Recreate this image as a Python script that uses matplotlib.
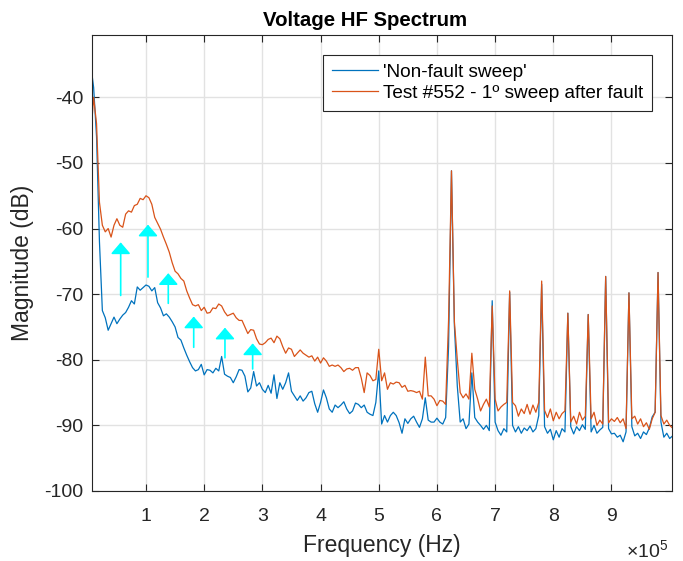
#!/usr/bin/env python3
# -*- coding: utf-8 -*-
"""
Voltage HF spectrum: non-fault sweep vs first sweep after fault.
"""

# Import relevant libraries.
import numpy as np
import matplotlib
matplotlib.use('Agg')
import matplotlib.pyplot as plt

plt.rcParams['font.family'] = ['Liberation Sans', 'DejaVu Sans']
plt.rcParams['mathtext.fontset'] = 'custom'
plt.rcParams['mathtext.rm'] = 'Liberation Sans'
plt.rcParams['mathtext.it'] = 'Liberation Sans'

# Frequency grid (kHz), 5 kHz steps.
freq_khz = np.arange(5, 1006, 5)

# Magnitude (dB) of the non-fault sweep.
mag_nonfault = [
    -35, -38.5, -46, -62, -72.5, -73.6, -75.5, -74.5, -73.5, -74.5,
    -73.8, -73.2, -72.8, -72, -71, -71.5, -68.9, -69.4, -69, -68.6,
    -68.8, -69.5, -69, -71.3, -72.1, -73.3, -73, -73.5, -74.2, -75,
    -76.6, -77, -78.2, -79.3, -80.3, -81.2, -81.7, -81.5, -80.7, -82.3,
    -81.5, -81.6, -82, -81.3, -81.7, -79.5, -82.2, -82.5, -82.7, -83.5,
    -82.6, -81.5, -81.6, -82.5, -84.9, -84.3, -81.8, -84, -83.5, -84.5,
    -85, -83.9, -85.1, -82.3, -85.9, -83.5, -84.5, -83.5, -82, -84.8,
    -85.5, -86.2, -85.5, -86.3, -85.8, -85, -84.8, -86.7, -88, -86.5,
    -84.6, -85.8, -87.5, -88, -86.9, -87.3, -86.9, -86.4, -87.5, -88.2,
    -87.8, -86.6, -86.8, -87.3, -86.9, -88, -88.3, -88.5, -86.5, -81.7,
    -89.8, -88.5, -89.5, -88.5, -88, -88.5, -89.6, -91.2, -89, -89.7,
    -89, -88.6, -89.5, -90.3, -89, -85.8, -89.2, -89.5, -89.5, -88.9,
    -89.5, -89.8, -88.8, -78, -51.2, -74.8, -84, -89.5, -89, -90.5,
    -89.8, -82, -88.8, -89.5, -90, -90.6, -90, -90.8, -71, -89.5,
    -90.8, -91.5, -90.5, -91, -69.7, -90, -91, -90.2, -91.2, -90.4,
    -90.8, -90.1, -91, -90.5, -88.5, -68.5, -90.2, -91.2, -90.6, -92.2,
    -90.8, -91.8, -90.5, -91, -72.9, -90.2, -91.3, -90.2, -90.8, -89.9,
    -90.6, -73.1, -91, -90, -91.2, -90.7, -90.3, -67.3, -90.5, -91.3,
    -91.2, -91.8, -91.5, -92.5, -91, -69.8, -90.2, -91.6, -91.2, -92,
    -91, -91.4, -90.4, -88.7, -88, -66.7, -89.5, -91.8, -91.2, -92,
    -91.6,
]

# Magnitude (dB) of test #552, first sweep after fault.
mag_fault = [
    -46, -40, -44, -56, -59.5, -60.5, -60, -61.3, -59.5, -58.5,
    -59.5, -59.8, -57.8, -57.3, -57.5, -56.5, -56.3, -55.4, -55.6, -55,
    -55.3, -56.3, -58.3, -59.2, -60.1, -61.3, -62.4, -63.6, -65.2, -66.5,
    -66.9, -67.6, -68, -69.5, -70.6, -71.6, -71.8, -71.6, -72.5, -72,
    -72.9, -72.8, -72.1, -72.2, -71.5, -71.8, -72.7, -73.3, -73.1, -72.9,
    -73.6, -74, -74, -75, -76, -75.4, -75.5, -76.8, -77.6, -77.7,
    -77.4, -76.9, -76.7, -77.4, -76.4, -76.8, -78, -79, -78.2, -78.4,
    -79.5, -79, -78.5, -79, -79.3, -79.6, -79.4, -80.2, -79.6, -80.5,
    -79.7, -80.2, -81, -80.8, -81, -80.8, -81.2, -81.8, -81.4, -81.3,
    -81.6, -81.2, -81.2, -82.8, -85, -82, -82.4, -83.2, -83, -78.4,
    -83.2, -82, -84.5, -83.5, -83.7, -83.4, -83.5, -84.2, -83.9, -84.8,
    -84.7, -84.8, -85, -84.8, -86, -79.6, -85.5, -85.5, -86, -87,
    -86.2, -86.3, -86.8, -74, -51.2, -74.2, -80, -85, -85.8, -85.2,
    -86, -79, -84.5, -86, -87.8, -86.8, -86, -87.2, -71.8, -86,
    -87.8, -87.2, -86.8, -86.5, -69.5, -86.5, -87, -88.6, -87.5, -88.2,
    -86.8, -88.3, -86.9, -88, -86.5, -68, -87.7, -88.8, -87.5, -89.3,
    -88, -89, -88.2, -87.8, -72.9, -89.5, -88.6, -89.8, -88, -89.2,
    -88.6, -73.1, -89, -88, -90, -89.2, -89.8, -67.3, -89.6, -89,
    -89.4, -88.8, -89.6, -89, -90.5, -69.8, -89, -88.6, -89.8, -89,
    -90.2, -89.6, -90.6, -89, -88, -66.7, -88.5, -89.8, -89.2, -90,
    -90.4,
]

# Cyan arrows: frequency (Hz), tail and head magnitude (dB).
arrow_freq = [56500, 103400, 138300, 182000, 235700, 283300]
arrow_tail = [-70.2, -67.4, -71.4, -78.1, -79.7, -81.4]
arrow_head = [-62.1, -59.4, -66.8, -73.4, -75.1, -77.5]

labels = ["'Non-fault sweep'", 'Test #552 - 1º sweep after fault']
xtick_vals = [1, 2, 3, 4, 5, 6, 7, 8, 9]
ytick_vals = [-100, -90, -80, -70, -60, -50, -40]

## Plotting.
fig = plt.figure(figsize=(6.83, 5.61), dpi=100)
ax = fig.add_axes([0.1347, 0.1248, 0.8492, 0.8128])

freq_hz = freq_khz * 1e3
ax.plot(freq_hz, mag_nonfault, color='#0072BD', lw=0.9, label=labels[0])
ax.plot(freq_hz, mag_fault, color='#D95319', lw=0.9, label=labels[1])

for f, lo, hi in zip(arrow_freq, arrow_tail, arrow_head):
    ax.annotate('', xy=(f, hi), xytext=(f, lo),
                arrowprops=dict(arrowstyle='-|>,head_width=0.3,head_length=0.35',
                                color='#00FFFF', lw=1.2, mutation_scale=20,
                                shrinkA=0, shrinkB=0))

ax.set_xlim(7.2e3, 1.004e6)
ax.set_ylim(-100, -30.5)
ax.set_xticks([v * 1e5 for v in xtick_vals])
ax.set_xticklabels([str(v) for v in xtick_vals])
ax.set_yticks(ytick_vals)
ax.set_yticklabels([str(v) for v in ytick_vals])

ax.grid(True, color='#e2e2e2', lw=1.0)
ax.set_axisbelow(True)
for s in ax.spines.values():
    s.set_color('#262626')
    s.set_linewidth(0.8)
ax.tick_params(direction='in', length=5, width=0.8, colors='#262626',
               labelsize=14, top=True, right=True)
ax.tick_params(axis='x', pad=12)
ax.tick_params(axis='y', pad=6)

ax.set_xlabel('Frequency (Hz)', fontsize=16.5, color='#262626')
ax.set_ylabel('Magnitude (dB)', fontsize=16.5, color='#262626')
ax.xaxis.set_label_coords(0.5, -0.095)
ax.yaxis.set_label_coords(-0.1, 0.5)
ax.text(0.47, 1.02, 'Voltage HF Spectrum', transform=ax.transAxes,
        ha='center', va='baseline', fontsize=14.7, fontweight='bold')
fig.text(668 / 683, 1 - 557 / 561, r'$\times10^5$', ha='right',
         va='baseline', fontsize=14, color='#262626')

leg = ax.legend(loc='upper right', bbox_to_anchor=(0.9655, 0.9561),
                fontsize=13.7, frameon=True, fancybox=False, framealpha=1,
                edgecolor='#262626', borderaxespad=0, handlelength=2.4,
                handletextpad=0.3, labelspacing=0.2, borderpad=0.45)
leg.get_frame().set_linewidth(0.8)

plt.savefig('out.png', dpi=100)
